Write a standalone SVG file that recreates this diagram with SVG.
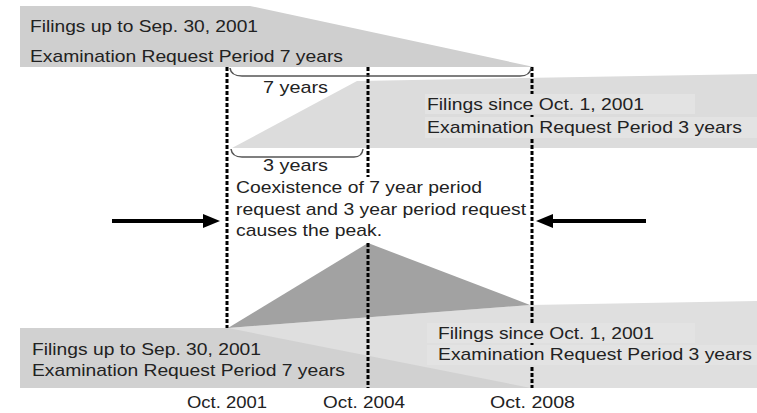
<svg xmlns="http://www.w3.org/2000/svg" width="757" height="413" viewBox="0 0 757 413">
  <defs>
    <style>
      text { font-family: "Liberation Sans", Arial, sans-serif; font-size: 17px; fill: #222; }
      .s7 { fill: #cfcfcf; }
      .s3 { fill: #dcdcdc; }
      .b7 { fill: #d1d1d1; }
      .b3 { fill: #dfdfdf; }
      .peak { fill: #a2a2a2; }
      .tbox { fill: #e3e3e3; }
      .dash { stroke: #000; stroke-width: 3; stroke-dasharray: 4 2; fill: none; }
      .brace { stroke: #555; stroke-width: 1.5; fill: none; }
      .arrow { stroke: #000; stroke-width: 4; fill: none; }
      .head { fill: #000; }
    </style>
  </defs>
  <rect width="757" height="413" fill="#fff"/>

  <g id="top-7yr">
    <polygon class="s7" points="20,6 250,6 534,67 20,67"/>
    <text x="30" y="32" textLength="228" lengthAdjust="spacingAndGlyphs">Filings up to Sep. 30, 2001</text>
    <text x="30" y="62" textLength="313" lengthAdjust="spacingAndGlyphs">Examination Request Period 7 years</text>
  </g>

  <g id="top-3yr">
    <polygon class="s3" points="232,148 357,81 757,74 757,148"/>
  </g>

  <g id="bottom-3yr">
    <polygon class="b3" points="228,328 530,305 757,301 757,388 228,388"/>
  </g>
  <g id="bottom-7yr">
    <polygon class="b7" points="20,328 228,328 531,388 20,388"/>
  </g>
  <g id="peak">
    <polygon class="peak" points="228,328 368,243 530,305"/>
  </g>

  <g id="connectors">
    <line class="dash" x1="227" y1="67" x2="227" y2="328"/>
    <line class="dash" x1="368" y1="67" x2="368" y2="177"/>
    <line class="dash" x1="368" y1="243" x2="368" y2="388"/>
    <line class="dash" x1="532" y1="67" x2="532" y2="388"/>
    <line class="arrow" x1="112" y1="221" x2="206" y2="221"/>
    <polygon class="head" points="203,214 220,221 203,228"/>
    <line class="arrow" x1="550" y1="221" x2="646" y2="221"/>
    <polygon class="head" points="553,214 536,221 553,228"/>
  </g>

  <g id="top-3yr-label">
    <rect class="tbox" x="425" y="94" width="270" height="20"/>
    <rect class="tbox" x="425" y="117" width="332" height="21"/>
    <text x="427" y="110" textLength="217" lengthAdjust="spacingAndGlyphs">Filings since Oct. 1, 2001</text>
    <text x="427" y="133" textLength="315" lengthAdjust="spacingAndGlyphs">Examination Request Period 3 years</text>
  </g>

  <g id="bottom-3yr-label">
    <rect class="tbox" x="427" y="323" width="268" height="20"/>
    <rect class="tbox" x="427" y="345" width="330" height="20"/>
    <text x="438" y="339" textLength="216" lengthAdjust="spacingAndGlyphs">Filings since Oct. 1, 2001</text>
    <text x="438" y="360" textLength="314" lengthAdjust="spacingAndGlyphs">Examination Request Period 3 years</text>
  </g>

  <g id="bottom-7yr-label">
    <text x="32" y="355" textLength="229" lengthAdjust="spacingAndGlyphs">Filings up to Sep. 30, 2001</text>
    <text x="32" y="376" textLength="313" lengthAdjust="spacingAndGlyphs">Examination Request Period 7 years</text>
  </g>

  <g id="brace-7">
    <path class="brace" d="M230,68 Q231,76 242,76 L520,76 Q530,76 531,68"/>
    <text x="263" y="93" textLength="65" lengthAdjust="spacingAndGlyphs">7 years</text>
  </g>

  <g id="brace-3">
    <path class="brace" d="M231,149 Q232,157 242,157 L354,157 Q362,157 363,149"/>
    <text x="263" y="171" textLength="65" lengthAdjust="spacingAndGlyphs">3 years</text>
  </g>

  <g id="note">
    <text x="236" y="193" textLength="246" lengthAdjust="spacingAndGlyphs">Coexistence of 7 year period</text>
    <text x="236" y="215" textLength="290" lengthAdjust="spacingAndGlyphs">request and 3 year period request</text>
    <text x="236" y="236" textLength="146" lengthAdjust="spacingAndGlyphs">causes the peak.</text>
  </g>

  <g id="axis">
    <text x="187" y="408" textLength="80" lengthAdjust="spacingAndGlyphs">Oct. 2001</text>
    <text x="323" y="408" textLength="82" lengthAdjust="spacingAndGlyphs">Oct. 2004</text>
    <text x="490" y="408" textLength="85" lengthAdjust="spacingAndGlyphs">Oct. 2008</text>
  </g>
</svg>
